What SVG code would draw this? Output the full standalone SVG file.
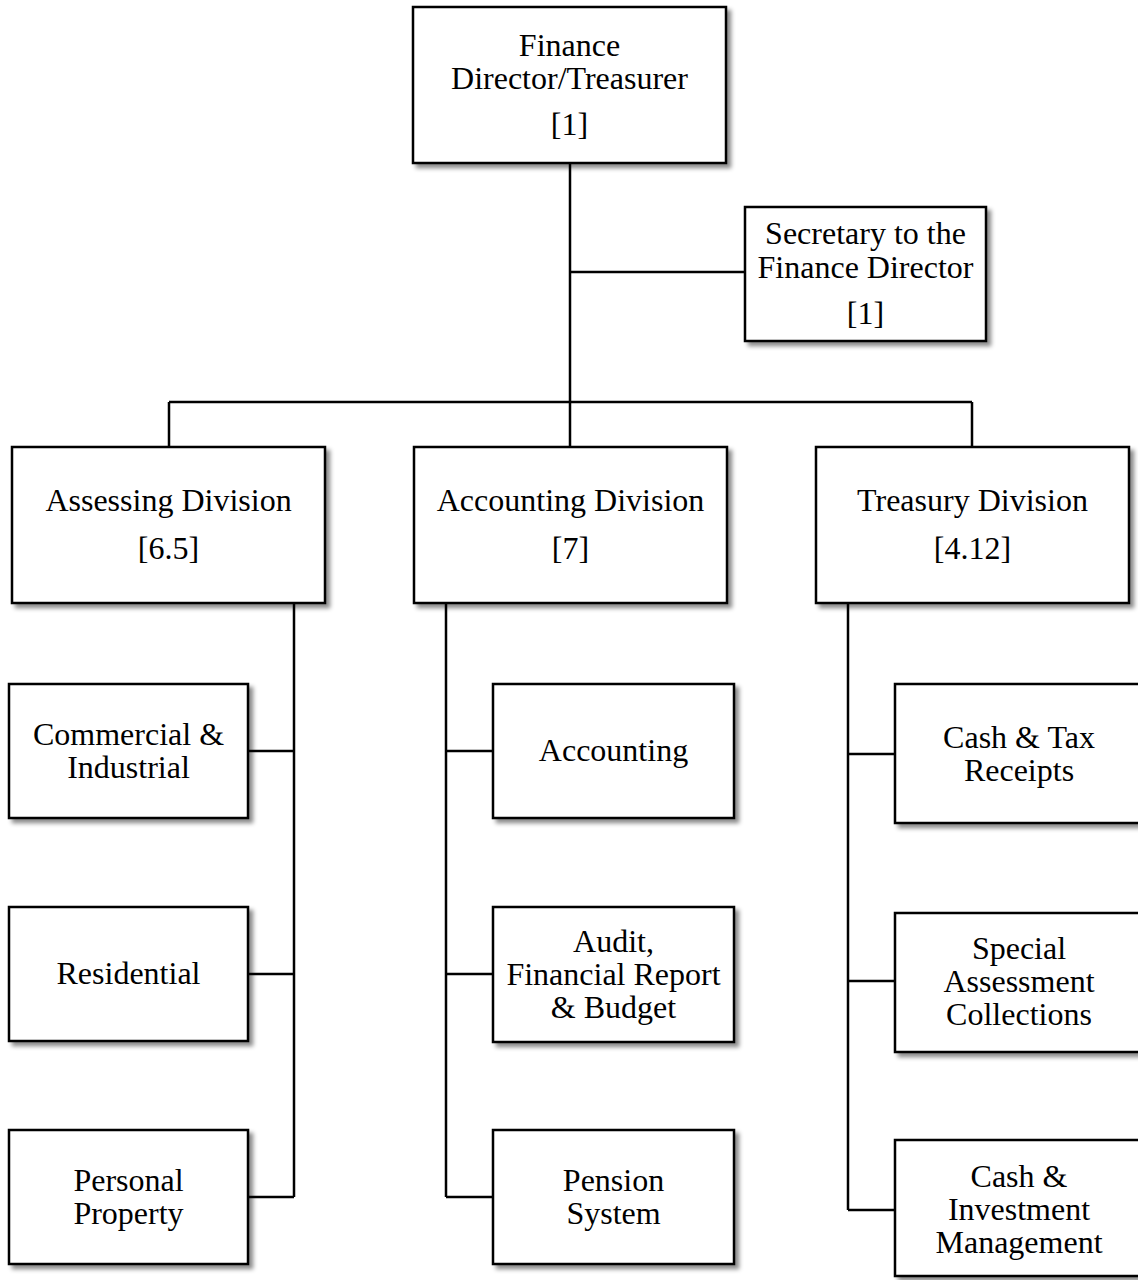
<svg xmlns="http://www.w3.org/2000/svg" width="1138" height="1280" viewBox="0 0 1138 1280">
<defs>
<filter id="sh" x="-10%" y="-10%" width="130%" height="130%">
<feDropShadow dx="4" dy="4" stdDeviation="2.2" flood-color="#000" flood-opacity="0.45"/>
</filter>
</defs>
<style>
.box{fill:#fff;stroke:#000;stroke-width:2.5;filter:url(#sh)}
.t{font-family:"Liberation Serif","Times New Roman",serif;font-size:32px;fill:#000;text-anchor:middle}
.c{fill:none;stroke:#000;stroke-width:2.5}
</style>
<rect width="1138" height="1280" fill="#fff"/>
<g id="connectors">
<path class="c" d="M570 163V402M570 272H745M169 402H972M169 402V447M570 402V447M972 402V447"/>
<path class="c" d="M294 603V1197M248 751H294M248 974H294M248 1197H294"/>
<path class="c" d="M446 603V1197M446 751H493M446 974H493M446 1197H493"/>
<path class="c" d="M848 603V1210M848 754H895M848 981H895M848 1210H895"/>
</g>
<g id="finance-director">
<rect class="box" x="413" y="7" width="313" height="156"/>
<text class="t" x="569.5" y="56">Finance</text>
<text class="t" x="569.5" y="89">Director/Treasurer</text>
<text class="t" x="569.5" y="135">[1]</text>
</g>
<g id="secretary">
<rect class="box" x="745" y="207" width="241" height="134"/>
<text class="t" x="865.5" y="244">Secretary to the</text>
<text class="t" x="865.5" y="278">Finance Director</text>
<text class="t" x="865.5" y="324">[1]</text>
</g>
<g id="assessing-division">
<rect class="box" x="12" y="447" width="313" height="156"/>
<text class="t" x="168.5" y="511">Assessing Division</text>
<text class="t" x="168.5" y="559">[6.5]</text>
</g>
<g id="accounting-division">
<rect class="box" x="414" y="447" width="313" height="156"/>
<text class="t" x="570.5" y="511">Accounting Division</text>
<text class="t" x="570.5" y="559">[7]</text>
</g>
<g id="treasury-division">
<rect class="box" x="816" y="447" width="313" height="156"/>
<text class="t" x="972.5" y="511">Treasury Division</text>
<text class="t" x="972.5" y="559">[4.12]</text>
</g>
<g id="commercial-industrial">
<rect class="box" x="9" y="684" width="239" height="134"/>
<text class="t" x="128.5" y="745">Commercial &amp;</text>
<text class="t" x="128.5" y="778">Industrial</text>
</g>
<g id="residential">
<rect class="box" x="9" y="907" width="239" height="134"/>
<text class="t" x="128.5" y="984">Residential</text>
</g>
<g id="personal-property">
<rect class="box" x="9" y="1130" width="239" height="134"/>
<text class="t" x="128.5" y="1191">Personal</text>
<text class="t" x="128.5" y="1224">Property</text>
</g>
<g id="accounting">
<rect class="box" x="493" y="684" width="241" height="134"/>
<text class="t" x="613.5" y="761">Accounting</text>
</g>
<g id="audit">
<rect class="box" x="493" y="907" width="241" height="135"/>
<text class="t" x="613.5" y="952">Audit,</text>
<text class="t" x="613.5" y="985">Financial Report</text>
<text class="t" x="613.5" y="1018">&amp; Budget</text>
</g>
<g id="pension-system">
<rect class="box" x="493" y="1130" width="241" height="134"/>
<text class="t" x="613.5" y="1191">Pension</text>
<text class="t" x="613.5" y="1224">System</text>
</g>
<g id="cash-tax-receipts">
<rect class="box" x="895" y="684" width="248" height="139"/>
<text class="t" x="1019" y="748">Cash &amp; Tax</text>
<text class="t" x="1019" y="781">Receipts</text>
</g>
<g id="special-assessment">
<rect class="box" x="895" y="913" width="248" height="139"/>
<text class="t" x="1019" y="959">Special</text>
<text class="t" x="1019" y="992">Assessment</text>
<text class="t" x="1019" y="1025">Collections</text>
</g>
<g id="cash-investment">
<rect class="box" x="895" y="1140" width="248" height="136"/>
<text class="t" x="1019" y="1187">Cash &amp;</text>
<text class="t" x="1019" y="1220">Investment</text>
<text class="t" x="1019" y="1253">Management</text>
</g>
</svg>
